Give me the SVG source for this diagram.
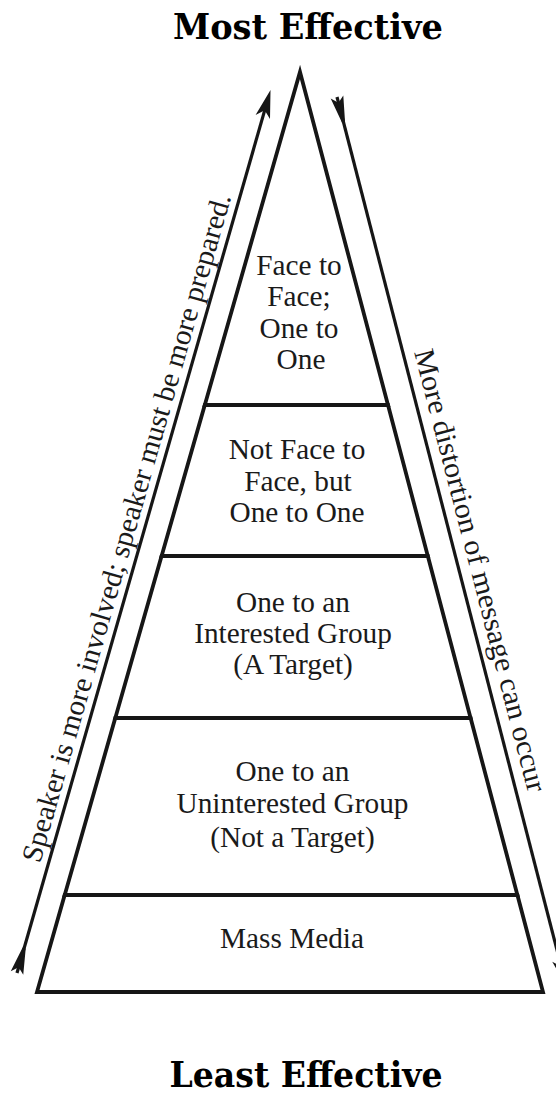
<svg xmlns="http://www.w3.org/2000/svg" width="556" height="1094" viewBox="0 0 556 1094">
<style>
.layer{fill:#fff;stroke:#161616;stroke-width:3.8;stroke-linejoin:miter}
.lbl{font-family:"Liberation Serif","Times New Roman",serif;font-size:29.3px;fill:#1a1a1a;text-anchor:middle}
.side{font-family:"Liberation Serif","Times New Roman",serif;font-size:29px;fill:#1a1a1a}
.title{font-family:"DejaVu Serif","Liberation Serif",serif;font-weight:bold;font-size:36px;fill:#000}
.arrow{fill:none;stroke:#161616;stroke-width:3.2}
</style>
<defs>
<marker id="head" markerUnits="userSpaceOnUse" orient="auto" refX="0" refY="0" markerWidth="40" markerHeight="30" viewBox="-20 -15 40 30" overflow="visible">
<path d="M12,0 L-16,-7.5 L-9,0 L-16,7.5 Z" fill="#161616"/>
</marker>
<marker id="tail" markerUnits="userSpaceOnUse" orient="auto" refX="0" refY="0" markerWidth="40" markerHeight="30" viewBox="-5 -15 40 30" overflow="visible">
<path d="M0,-6.5 L6,0 L0,6.5 L26,1.6 L26,-1.6 Z" fill="#161616"/>
</marker>
</defs>

<text class="title" x="308" y="39" text-anchor="middle" textLength="270" lengthAdjust="spacingAndGlyphs">Most Effective</text>

<g id="layer1">
<polygon class="layer" points="300,72 388,405 204.8,405"/>
<text class="lbl" x="299" y="275">Face to</text>
<text class="lbl" x="299" y="306">Face;</text>
<text class="lbl" x="299" y="338">One to</text>
<text class="lbl" x="301" y="369">One</text>
</g>
<g id="layer2">
<polygon class="layer" points="204.8,405 388,405 427.8,556 161.6,556"/>
<text class="lbl" x="297" y="459">Not Face to</text>
<text class="lbl" x="298" y="491">Face, but</text>
<text class="lbl" x="297" y="522">One to One</text>
</g>
<g id="layer3">
<polygon class="layer" points="161.6,556 427.8,556 470.6,718 115.3,718"/>
<text class="lbl" x="293" y="612">One to an</text>
<text class="lbl" x="293" y="643">Interested Group</text>
<text class="lbl" x="293" y="674">(A Target)</text>
</g>
<g id="layer4">
<polygon class="layer" points="115.3,718 470.6,718 517.4,895 64.7,895"/>
<text class="lbl" x="292.5" y="781">One to an</text>
<text class="lbl" x="292.5" y="813">Uninterested Group</text>
<text class="lbl" x="292.5" y="847">(Not a Target)</text>
</g>
<g id="layer5">
<polygon class="layer" points="64.7,895 517.4,895 543,992 37,992"/>
<text class="lbl" x="292" y="948">Mass Media</text>
</g>

<g id="connectors">
<path class="arrow" d="M17,973 L267.2,101.6" marker-start="url(#tail)" marker-end="url(#head)"/>
<path class="arrow" d="M337,97 L563.5,975.3" marker-start="url(#tail)" marker-end="url(#head)"/>
</g>

<g id="side-labels">
<text class="side" transform="translate(40,864) rotate(-74)" textLength="694" lengthAdjust="spacingAndGlyphs">Speaker is more involved; speaker must be more prepared.</text>
<text class="side" transform="translate(414,352) rotate(75.5)" textLength="456" lengthAdjust="spacingAndGlyphs">More distortion of message can occur</text>
</g>

<text class="title" x="306" y="1087" text-anchor="middle" textLength="273" lengthAdjust="spacingAndGlyphs">Least Effective</text>
</svg>
